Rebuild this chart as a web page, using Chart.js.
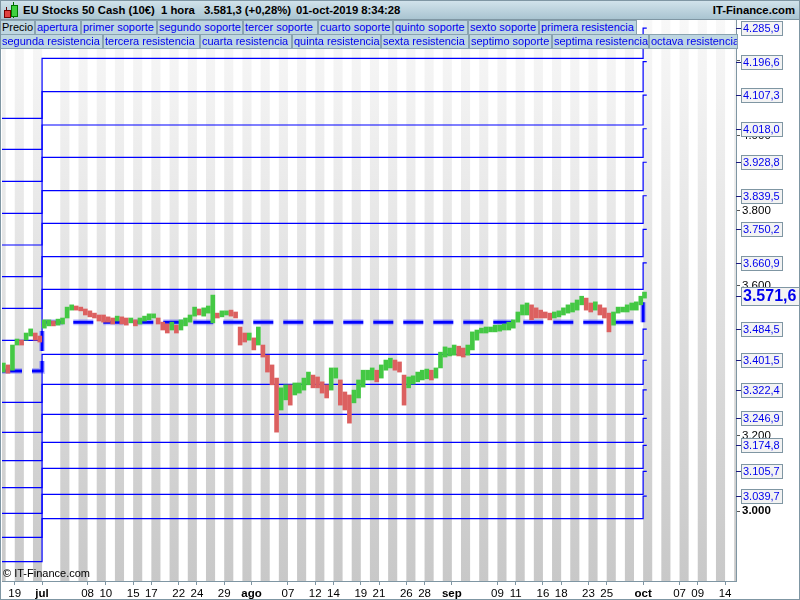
<!DOCTYPE html>
<html>
<head>
<meta charset="utf-8">
<script src="https://cdn.jsdelivr.net/npm/chart.js@4.4.0/dist/chart.umd.min.js"></script>
<style>
body{margin:0;background:#fff;font-family:"Liberation Sans",Arial,sans-serif;}
#wrap{position:relative;width:800px;height:600px;overflow:hidden;}
#wrap canvas{position:absolute;left:0;top:0;}
#head{position:absolute;left:0;top:0;width:800px;height:19px;background:linear-gradient(#d3e4ec,#a9c4d1);border-bottom:1px solid #7f96a3;font-size:11.3px;font-weight:bold;color:#000;}
#head span{position:absolute;top:4px;white-space:nowrap;}
.lg{position:absolute;height:13px;line-height:13px;font-size:11px;color:#0000ee;background:#bed6e1;border:1px solid #8aa3b0;padding-left:1px;white-space:nowrap;overflow:hidden;box-sizing:content-box;}
#copy{position:absolute;left:3px;top:567px;font-size:11px;color:#000;}
#frame{position:absolute;left:0;top:0;width:798px;height:598px;border:1px solid #7f96a3;pointer-events:none;}
.cd{position:absolute;}
</style>
</head>
<body>
<div id="wrap">
<canvas id="c" width="800" height="600"></canvas>
<div id="head">
  <div class="cd" style="left:6px;top:7px;width:1px;height:11px;background:#600;"></div>
  <div class="cd" style="left:4px;top:10px;width:5px;height:6px;background:#e04040;border:1px solid #700;"></div>
  <div class="cd" style="left:13px;top:2px;width:1px;height:16px;background:#060;"></div>
  <div class="cd" style="left:11px;top:5px;width:5px;height:10px;background:#40d040;border:1px solid #070;"></div>
  <span style="left:23px">EU Stocks 50 Cash (10€)</span>
  <span style="left:161px">1 hora</span>
  <span style="left:204px">3.581,3 (+0,28%)</span>
  <span style="left:296px">01-oct-2019 8:34:28</span>
  <span style="right:5px">IT-Finance.com</span>
</div>
<div id="legend"></div>
<div id="copy">© IT-Finance.com</div>
<div id="frame"></div>
</div>
<script>
// sesiones (indice de dia habil, 0 = 1 jul 2019) y rango de precio
const priceX = [-4.25,-3.75,-3.25,-2.75,-2.25,-1.75,-1.25,-0.75,-0.25,
  0.25,0.75,1.25,1.75,2.25,2.75,3.25,3.75,4.25,4.75,5.25,5.75,6.25,6.75,7.25,7.75,8.25,8.75,9.25,9.75,
  10.25,10.75,11.25,11.75,12.25,12.75,13.25,13.75,14.25,14.75,15.25,15.75,16.25,16.75,17.25,17.75,18.25,18.75,19.25,19.75,
  20.25,20.75,21.25,21.75,22.25,22.75,23.25,23.75,24.25,24.75,25.25,25.75,26.25,26.75,27.25,27.75,28.25,28.75,29.25,29.75,
  30.25,30.75,31.25,31.75,32.25,32.75,33.25,33.75,34.25,34.75,35.25,35.75,36.25,36.75,37.25,37.75,38.25,38.75,39.25,39.75,
  40.25,40.75,41.25,41.75,42.25,42.75,43.25,43.75,44.25,44.75,45.25,45.75,46.25,46.75,47.25,47.75,48.25,48.75,49.25,49.75,
  50.25,50.75,51.25,51.75,52.25,52.75,53.25,53.75,54.25,54.75,55.25,55.75,56.25,56.75,57.25,57.75,58.25,58.75,59.25,59.75,
  60.25,60.75,61.25,61.75,62.25,62.75,63.25,63.75,64.25,64.75,65.25,65.75,66.15];
const priceHigh = [3394,3389,3442,3458,3455,3474,3485,3474,3466,
  3509,3509,3506,3511,3514,3543,3549,3546,3543,3538,3533,3527,3522,3522,3517,3514,3519,3517,3514,3514,
  3509,3514,3519,3525,3525,3514,3503,3498,3503,3495,3509,3514,3522,3543,3538,3541,3546,3575,3527,3533,
  3533,3535,3530,3490,3474,3474,3461,3490,3442,3415,3389,3354,3328,3336,3336,3341,3341,3354,3370,3362,
  3357,3344,3336,3381,3381,3349,3317,3309,3322,3349,3375,3375,3381,3375,3389,3402,3407,3402,3397,3362,
  3357,3360,3370,3375,3378,3375,3381,3423,3437,3434,3442,3439,3434,3442,3477,3482,3487,3490,3490,3495,
  3495,3498,3503,3509,3530,3549,3554,3549,3541,3535,3530,3527,3530,3533,3541,3549,3554,3562,3572,3567,
  3554,3557,3549,3541,3527,3530,3543,3543,3549,3554,3557,3572,3583];
const priceLow = [3370,3367,3375,3442,3442,3455,3466,3455,3450,
  3487,3493,3493,3495,3498,3514,3535,3535,3533,3522,3517,3514,3506,3503,3503,3498,3506,3498,3495,3501,
  3493,3498,3506,3509,3514,3498,3482,3474,3482,3474,3482,3493,3503,3519,3522,3519,3527,3501,3514,3517,
  3522,3519,3514,3442,3450,3455,3429,3442,3410,3370,3336,3210,3269,3296,3282,3309,3314,3322,3336,3328,
  3328,3314,3301,3322,3354,3282,3269,3234,3288,3301,3330,3349,3349,3344,3354,3375,3381,3375,3370,3282,
  3328,3338,3344,3349,3352,3349,3354,3381,3410,3413,3415,3413,3410,3415,3429,3455,3474,3474,3477,3477,
  3479,3482,3482,3487,3503,3522,3522,3509,3514,3514,3514,3509,3514,3517,3522,3527,3530,3535,3549,3535,
  3530,3535,3522,3514,3477,3495,3527,3530,3530,3535,3535,3549,3567];

// niveles trimestrales: R8..R1, apertura, S1..S7
const levelNames = ['octava resistencia','septima resistencia','sexta resistencia','quinta resistencia',
  'cuarta resistencia','tercera resistencia','segunda resistencia','primera resistencia','apertura',
  'primer soporte','segundo soporte','tercer soporte','cuarto soporte','quinto soporte','sexto soporte','septimo soporte'];
const levelsQ2 = [4045.8,3963.2,3878.0,3792.8,3708.4,3624.0,3539.8,3454.6,3372.8,3289.5,3209.6,3134.0,3062.1,2993.9,2930.0,2865.0];
const levelsQ3 = [4205.6,4116.6,4028.0,3941.9,3853.0,3766.2,3677.2,3590.4,3502.5,3417.3,3337.4,3257.5,3183.0,3113.7,3044.5,2979.5];
const levelsQ4 = [4285.9,4196.6,4107.3,4018.0,3928.8,3839.5,3750.2,3660.9,3571.6,3484.5,3401.5,3322.4,3246.9,3174.8,3105.7,3039.7];
const quarterStart = [0, 66];   // 1 jul, 1 oct
const lastSession = 66.4;

// eje x
const tickPos = [-3,0,5,7,10,12,15,17,20,23,27,30,32,35,37,40,42,45,50,52,55,57,60,62,66,70,72,75];
const tickText = ['19','jul','08','10','15','17','22','24','29','ago','07','12','14','19','21','26','28','sep','09','11','16','18','23','25','oct','07','09','14'];
const monthTicks = ['jul','ago','sep','oct'];
const xMin = -4.4, xMax = 76.2;
const yMin = 2813.6, yMax = 4307.6;
const yTicks = [3000,3200,3400,3600,3800,4000,4200];

const legendRows = [
  [['Precio',0,34],['apertura',35,80],['primer soporte',81,156],['segundo soporte',157,242],['tercer soporte',243,317],
   ['cuarto soporte',318,392],['quinto soporte',393,467],['sexto soporte',468,538],['primera resistencia',539,636]],
  [['segunda resistencia',0,102],['tercera resistencia',103,199],['cuarta resistencia',200,291],['quinta resistencia',292,380],
   ['sexta resistencia',381,468],['septimo soporte',469,551],['septima resistencia',552,648],['octava resistencia',649,737]]
];
const lg = document.getElementById('legend');
legendRows.forEach((row, r) => row.forEach(([txt, a, b]) => {
  const d = document.createElement('div');
  d.className = 'lg';
  d.textContent = txt;
  d.style.left = a + 'px';
  d.style.top = (20 + r * 14) + 'px';
  d.style.width = (b - a - 2) + 'px';
  if (txt === 'Precio') d.style.color = '#000';
  lg.appendChild(d);
}));

function fmtInt(v) { const s = String(Math.round(v)); return s.slice(0, -3) + '.' + s.slice(-3); }
function fmtLevel(v) { const p = v.toFixed(1).split('.'); return p[0].slice(0, -3) + '.' + p[0].slice(-3) + ',' + p[1]; }

const BLUE = '#0000ff';
const levelSets = levelNames.map((name, i) => {
  const pivot = name === 'apertura';
  return {
    type: 'line', label: name, order: 2,
    data: [{x: xMin, y: levelsQ2[i]}, {x: quarterStart[0], y: levelsQ3[i]}, {x: quarterStart[1], y: levelsQ4[i]}, {x: lastSession, y: levelsQ4[i]}],
    stepped: true, borderColor: BLUE, borderWidth: pivot ? 3 : 1.2,
    borderDash: pivot ? [20, 10] : [], pointRadius: 0
  };
});
const pivotIdx = levelNames.indexOf('apertura');
const halo = {
  type: 'line', label: 'halo', order: 3,
  data: levelSets[pivotIdx].data,
  stepped: true, borderColor: 'rgba(90,90,255,0.35)', borderWidth: 6, borderDash: [20, 10], pointRadius: 0
};

const mids = priceHigh.map((h, i) => (h + priceLow[i]) / 2);
const candleColors = mids.map((m, i) => (i === 0 || m >= mids[i - 1]) ? '#44c844' : '#dc6060');
const candles = {
  type: 'bar', label: 'Precio', order: 0,
  data: priceX.map((x, i) => ({x: x, y: [priceLow[i], priceHigh[i]]})),
  backgroundColor: candleColors, borderWidth: 0, barThickness: 4, grouped: false
};

const stripes = {
  id: 'stripes',
  beforeDatasetsDraw(chart) {
    const {ctx, chartArea: a, scales: {x}} = chart;
    const g = ctx.createLinearGradient(0, a.top, 0, a.bottom);
    g.addColorStop(0, '#f8f8f8');
    g.addColorStop(1, '#c8c8c8');
    ctx.save();
    ctx.beginPath();
    ctx.rect(a.left, a.top, a.right - a.left, a.bottom - a.top);
    ctx.clip();
    ctx.fillStyle = g;
    for (let d = Math.floor(x.min); d < x.max; d++) {
      const gray = d < 0 ? (d % 2 !== 0) : (d > 0 && d % 2 === 0);
      if (!gray) continue;
      const x0 = x.getPixelForValue(d), x1 = x.getPixelForValue(d + 1);
      ctx.fillRect(x0, a.top, x1 - x0, a.bottom - a.top);
    }
    ctx.restore();
  }
};

const levelLabels = {
  id: 'levelLabels',
  afterDraw(chart) {
    const {ctx, chartArea: a, scales: {y}} = chart;
    ctx.save();
    levelsQ4.forEach((v, i) => {
      const py = Math.round(y.getPixelForValue(v));
      const big = i === pivotIdx;
      const txt = fmtLevel(v);
      ctx.font = big ? 'bold 16px "Liberation Sans", Arial' : '11px "Liberation Sans", Arial';
      const w = Math.ceil(ctx.measureText(txt).width) + 5;
      const h = big ? 19 : 15;
      const x0 = a.right + 5;
      ctx.fillStyle = '#1a1a80';
      ctx.fillRect(a.right, py, 5, 1);
      ctx.fillStyle = '#f3f3f3';
      ctx.fillRect(x0, py - Math.floor(h / 2), w, h);
      ctx.strokeStyle = '#7f96a3';
      ctx.lineWidth = 1;
      ctx.strokeRect(x0 + 0.5, py - Math.floor(h / 2) + 0.5, w - 1, h - 1);
      ctx.fillStyle = '#0000ee';
      ctx.textBaseline = 'middle';
      ctx.fillText(txt, x0 + 2, py + 1);
    });
    ctx.restore();
  }
};

Chart.defaults.font.family = '"Liberation Sans", Arial, sans-serif';
Chart.defaults.font.size = 11;
Chart.defaults.color = '#000';

new Chart(document.getElementById('c'), {
  data: {datasets: [candles, halo, ...levelSets]},
  options: {
    responsive: false, animation: false, devicePixelRatio: 1,
    layout: {padding: {left: 2, top: 20, right: 0, bottom: 0}},
    plugins: {legend: {display: false}, tooltip: {enabled: false}},
    scales: {
      x: {
        type: 'linear', min: xMin, max: xMax, offset: false,
        afterBuildTicks: s => { s.ticks = tickPos.map(v => ({value: v})); },
        afterFit: s => { s.height = 19; },
        ticks: {
          autoSkip: false, maxRotation: 0, padding: 2,
          callback: (v, i) => tickText[i],
          font: c => ({weight: monthTicks.includes(tickText[c.index]) ? 'bold' : 'normal', size: 11.5})
        },
        grid: {offset: false, drawOnChartArea: false, drawTicks: true, tickLength: 4, color: '#7f96a3'},
        border: {color: '#7f96a3'}
      },
      y: {
        type: 'linear', position: 'right', min: yMin, max: yMax,
        afterBuildTicks: s => { s.ticks = yTicks.map(v => ({value: v})); },
        afterFit: s => { s.width = 64; },
        ticks: {
          padding: 2, callback: v => fmtInt(v),
          font: c => ({weight: c.tick && c.tick.value === 3000 ? 'bold' : 'normal', size: 11.5})
        },
        grid: {drawOnChartArea: false, drawTicks: true, tickLength: 4, color: '#555'},
        border: {color: '#7f96a3'}
      }
    }
  },
  plugins: [stripes, levelLabels]
});
</script>
</body>
</html>
